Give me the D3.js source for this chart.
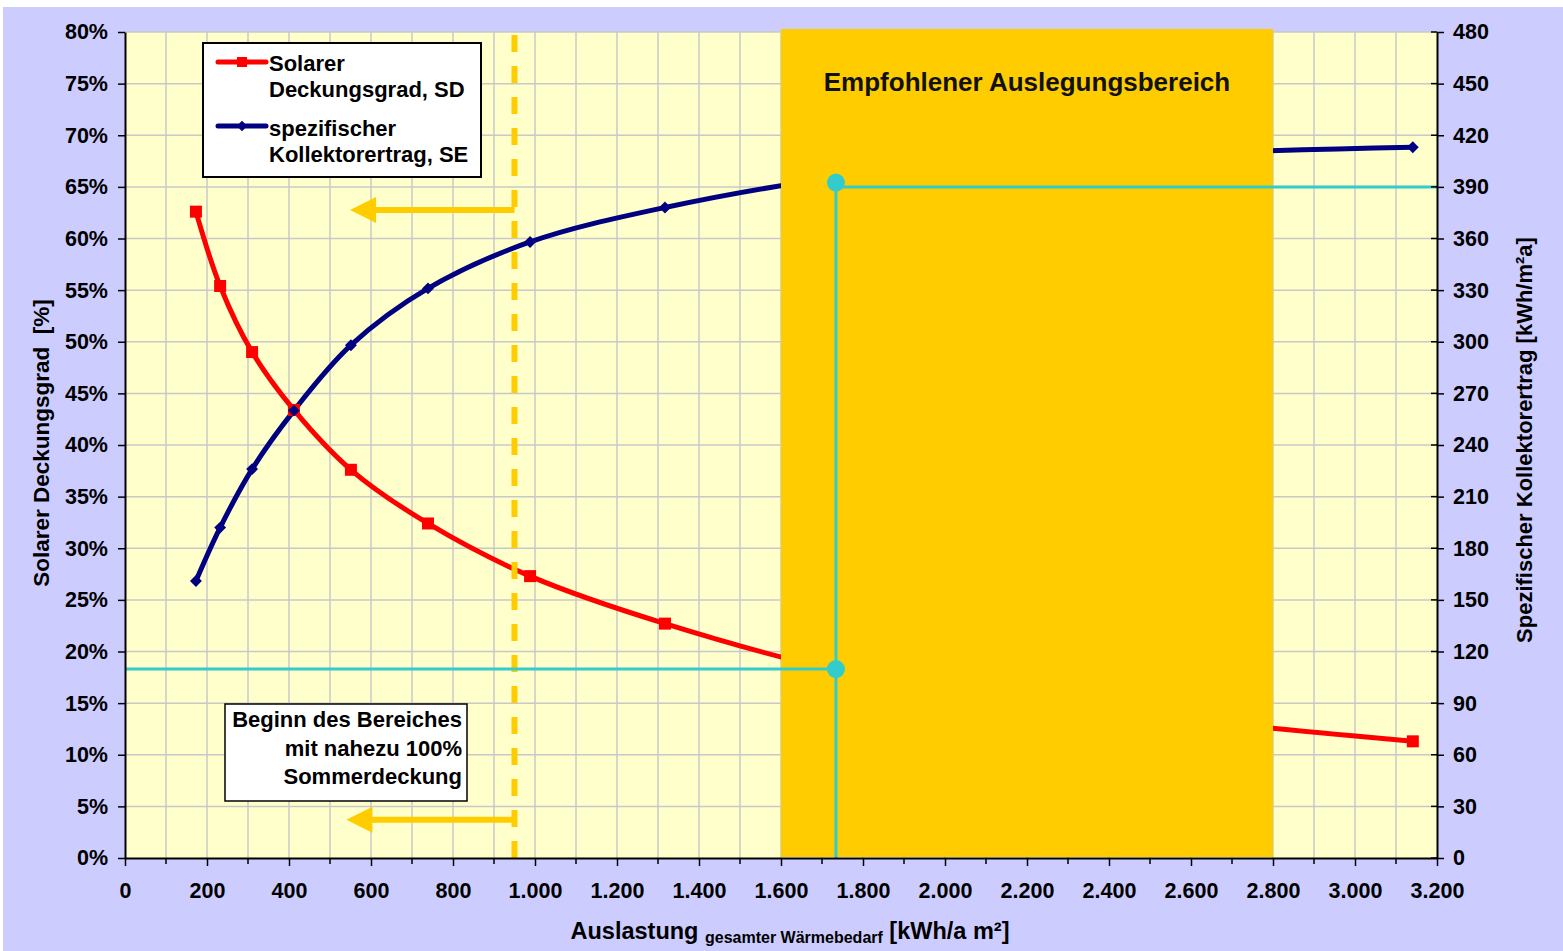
<!DOCTYPE html>
<html><head><meta charset="utf-8">
<script src="https://cdn.jsdelivr.net/npm/d3@7"></script>
<style>
html,body{margin:0;padding:0;background:#fff;}
svg text{font-family:Arial,"Liberation Sans",sans-serif;font-weight:bold;fill:#000;}
</style></head>
<body>
<svg id="c" width="1563" height="951"></svg>
<script>
// ---- data ----
const loadX = [173, 232, 310, 412, 551, 739, 988, 1317, 1756, 2341, 3141];
const sdValues = [62.6, 55.4, 49.0, 43.4, 37.6, 32.4, 27.3, 22.7, 18.0, 14.5, 11.3];
const seValues = [161, 192, 226, 260, 298, 331, 358, 378, 396, 407, 413];
const xTicks = [0,200,400,600,800,1000,1200,1400,1600,1800,2000,2200,2400,2600,2800,3000,3200];
const yLeftTicks = [0,5,10,15,20,25,30,35,40,45,50,55,60,65,70,75,80];
const yRightTicks = [0,30,60,90,120,150,180,210,240,270,300,330,360,390,420,450,480];
const rangeStart = 1600, rangeEnd = 2800;
const markX = 1734, markSD = 18.3, markSE = 392.5, markSELine = 390;
const dashX = 950;
const arrowUp = {from: 950, to: 549, y: 62.75};
const arrowDown = {from: 950, to: 540, y: 3.7};

const svg = d3.select("#c");
const L=125, R=1437, T=32, B=858;
const x = d3.scaleLinear([0,3200],[L,R]);
const yL = d3.scaleLinear([0,80],[B,T]);
const yR = d3.scaleLinear([0,480],[B,T]);
const de = d3.formatLocale({decimal:",", thousands:".", grouping:[3], currency:["","€"]});
const fmtX = de.format(",d");

// backgrounds
svg.append("rect").attr("x",3).attr("y",7).attr("width",1560).attr("height",944).attr("fill","#CCCCFF");
svg.append("rect").attr("x",L).attr("y",T).attr("width",R-L).attr("height",B-T).attr("fill","#FFFFCC");

// grid
const grid = svg.append("g").attr("stroke","#C8C8C8").attr("stroke-width",1.5);
grid.selectAll("line.v").data(d3.range(100,3200,100)).join("line")
  .attr("x1",d=>x(d)).attr("x2",d=>x(d)).attr("y1",T).attr("y2",B);
grid.selectAll("line.h").data(yLeftTicks.filter(d=>d>0)).join("line")
  .attr("x1",L).attr("x2",R).attr("y1",d=>yL(d)).attr("y2",d=>yL(d));

// series
const curve = d3.curveCatmullRom.alpha(0.5);
const sdPts = loadX.map((v,i)=>[x(v), yL(sdValues[i])]);
const sePts = loadX.map((v,i)=>[x(v), yR(seValues[i])]);
svg.append("path").attr("d",d3.line().curve(curve)(sdPts)).attr("fill","none").attr("stroke","#FF0000").attr("stroke-width",5);
svg.append("path").attr("d",d3.line().curve(curve)(sePts)).attr("fill","none").attr("stroke","#000080").attr("stroke-width",5);
svg.selectAll("rect.sd").data(sdPts).join("rect").attr("x",d=>d[0]-6).attr("y",d=>d[1]-6).attr("width",12).attr("height",12).attr("fill","#FF0000");
svg.selectAll("path.se").data(sePts).join("path").attr("transform",d=>`translate(${d[0]},${d[1]})`)
  .attr("d",d3.symbol(d3.symbolDiamond2, 90)).attr("fill","#000080");

// recommended range
svg.append("rect").attr("x",x(rangeStart)).attr("y",T-3).attr("width",x(rangeEnd)-x(rangeStart)).attr("height",B-T+2)
  .attr("fill","#FFCC00");
svg.append("text").attr("x",(x(rangeStart)+x(rangeEnd))/2).attr("y",91).attr("text-anchor","middle")
  .attr("font-size",26).style("fill","#111").text("Empfohlener Auslegungsbereich");

// dashed line
svg.append("line").attr("x1",x(dashX)).attr("x2",x(dashX)).attr("y1",T+3).attr("y2",B)
  .attr("stroke","#FFCC00").attr("stroke-width",6).attr("stroke-dasharray","17,14");

// arrows
function arrow(a){
  const y0 = yL(a.y), tip = x(a.to);
  svg.append("line").attr("x1",x(a.from)).attr("x2",tip+24).attr("y1",y0).attr("y2",y0)
    .attr("stroke","#FFCC00").attr("stroke-width",6);
  svg.append("path").attr("d",`M${tip},${y0}L${tip+26},${y0-13}L${tip+26},${y0+13}Z`).attr("fill","#FFCC00");
}
arrow(arrowUp); arrow(arrowDown);

// cyan markers
const cy = "#33CCCC";
svg.append("line").attr("x1",x(markX)).attr("x2",x(markX)).attr("y1",yR(markSE)).attr("y2",B).attr("stroke",cy).attr("stroke-width",3);
svg.append("line").attr("x1",x(markX)).attr("x2",R).attr("y1",yR(markSELine)).attr("y2",yR(markSELine)).attr("stroke",cy).attr("stroke-width",3);
svg.append("line").attr("x1",L).attr("x2",x(markX)).attr("y1",yL(markSD)).attr("y2",yL(markSD)).attr("stroke",cy).attr("stroke-width",3);
svg.append("circle").attr("cx",x(markX)).attr("cy",yR(markSE)).attr("r",9).attr("fill",cy);
svg.append("circle").attr("cx",x(markX)).attr("cy",yL(markSD)).attr("r",9).attr("fill",cy);

// axes
function styleAxis(g){
  g.selectAll("path.domain").attr("stroke","#000").attr("stroke-width",2);
  g.selectAll(".tick line").attr("stroke","#000").attr("stroke-width",1.5);
  g.selectAll("text").attr("font-size",21.5).attr("font-family","Arial, 'Liberation Sans', sans-serif").attr("font-weight","bold").attr("fill","#000");
}
// minor x ticks
svg.append("g").selectAll("line").data(d3.range(100,3200,200)).join("line")
  .attr("x1",d=>x(d)).attr("x2",d=>x(d)).attr("y1",B).attr("y2",B+6).attr("stroke","#000").attr("stroke-width",1.5);
svg.append("g").attr("transform",`translate(0,${B})`)
  .call(d3.axisBottom(x).tickValues(xTicks).tickSize(8).tickSizeOuter(0).tickPadding(17).tickFormat(fmtX)).call(styleAxis);
svg.append("g").attr("transform",`translate(${L},0)`)
  .call(d3.axisLeft(yL).tickValues(yLeftTicks).tickSize(7).tickSizeOuter(0).tickPadding(10).tickFormat(d=>d+"%")).call(styleAxis);
svg.append("g").attr("transform",`translate(${R},0)`)
  .call(d3.axisRight(yR).tickValues(yRightTicks).tickSize(7).tickSizeOuter(0).tickPadding(9).tickFormat(d=>d)).call(styleAxis);
svg.append("g").selectAll("line").data(yRightTicks).join("line")
  .attr("x1",R-6).attr("x2",R).attr("y1",d=>yR(d)).attr("y2",d=>yR(d)).attr("stroke","#000").attr("stroke-width",1.5);

// axis titles
svg.append("text").attr("transform","translate(49,443) rotate(-90)").attr("text-anchor","middle")
  .attr("font-size",22.5).style("white-space","pre").text("Solarer Deckungsgrad  [%]");
svg.append("text").attr("transform","translate(1532,440) rotate(-90)").attr("text-anchor","middle")
  .attr("font-size",22).text("Spezifischer Kollektorertrag [kWh/m²a]");
const xt = svg.append("text").attr("x",790).attr("y",939).attr("text-anchor","middle").attr("font-size",23.5);
xt.append("tspan").text("Auslastung ");
xt.append("tspan").attr("font-size",16).attr("dy",4).text("gesamter Wärmebedarf");
xt.append("tspan").attr("dy",-4).text(" [kWh/a m²]");

// legend
const lg = svg.append("g");
lg.append("rect").attr("x",203).attr("y",43).attr("width",278).attr("height",134).attr("fill","#fff").attr("stroke","#000").attr("stroke-width",2);
lg.append("line").attr("x1",218).attr("x2",266).attr("y1",62).attr("y2",62).attr("stroke","#FF0000").attr("stroke-width",5).attr("stroke-linecap","round");
lg.append("rect").attr("x",237).attr("y",57).attr("width",10).attr("height",10).attr("fill","#FF0000");
lg.append("line").attr("x1",218).attr("x2",266).attr("y1",126).attr("y2",126).attr("stroke","#000080").attr("stroke-width",5).attr("stroke-linecap","round");
lg.append("path").attr("transform","translate(242,126)").attr("d",d3.symbol(d3.symbolDiamond2,70)).attr("fill","#000080");
const lt = [["Solarer",71],["Deckungsgrad, SD",97],["spezifischer",136],["Kollektorertrag, SE",162]];
lg.selectAll("text").data(lt).join("text").attr("x",269).attr("y",d=>d[1]).attr("font-size",22).text(d=>d[0]);

// annotation box
svg.append("rect").attr("x",225).attr("y",704).attr("width",242).attr("height",97).attr("fill","#fff").attr("stroke","#000").attr("stroke-width",1.5);
const at = [["Beginn des Bereiches",727],["mit nahezu 100%",756],["Sommerdeckung",784]];
svg.selectAll("text.ann").data(at).join("text").attr("class","ann").attr("x",462).attr("y",d=>d[1])
  .attr("text-anchor","end").attr("font-size",22).text(d=>d[0]);
</script>
</body></html>
